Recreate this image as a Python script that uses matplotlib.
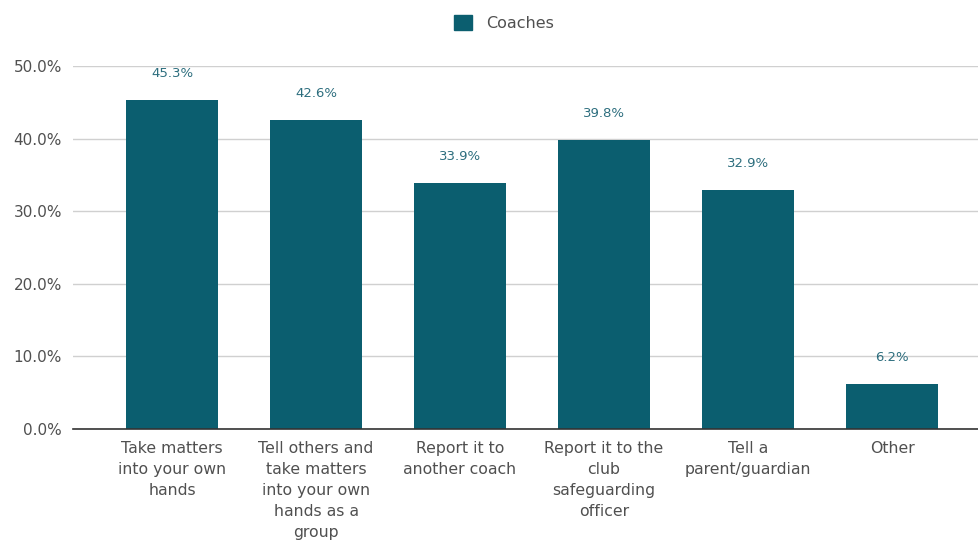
import matplotlib
matplotlib.use('Agg')
import matplotlib.pyplot as plt
from matplotlib.patches import Patch

categories = [
    'Take matters\ninto your own\nhands',
    'Tell others and\ntake matters\ninto your own\nhands as a\ngroup',
    'Report it to\nanother coach',
    'Report it to the\nclub\nsafeguarding\nofficer',
    'Tell a\nparent/guardian',
    'Other',
]
coaches = [45.3, 42.6, 33.9, 39.8, 32.9, 6.2]
yticks = [0, 10, 20, 30, 40, 50]

bar_color = '#0b5e6f'
label_color = '#2d6e7e'
tick_color = '#505050'

fig = plt.figure(figsize=(9.79, 5.44), dpi=100)
ax = fig.add_axes([0.0746, 0.2114, 0.9254, 0.6673])

x = list(range(len(categories)))
ax.bar(x, coaches, width=0.64, color=bar_color, zorder=3)

# value labels above each bar
for xi, val in zip(x, coaches):
    ax.annotate('%.1f%%' % val, (xi, val), xytext=(0, 19), textcoords='offset points',
                ha='center', va='center', fontsize=9.5, color=label_color)

ax.set_xlim(-0.6875, 5.604)
ax.set_ylim(0, 50)
ax.set_yticks(yticks)
ax.set_yticklabels(['%.1f%%' % t for t in yticks], fontsize=11, color=tick_color)
ax.set_xticks(x)
ax.set_xticklabels(categories, fontsize=11.3, color=tick_color, linespacing=1.5, va='top')

ax.grid(axis='y', color='#d0d0d0', linewidth=1, zorder=0)
for side in ('left', 'right', 'top'):
    ax.spines[side].set_visible(False)
ax.spines['bottom'].set_color('#333333')
ax.spines['bottom'].set_linewidth(1.2)
ax.spines['bottom'].set_zorder(4)
ax.tick_params(axis='both', length=0, pad=8)
ax.tick_params(axis='x', pad=9)

fig.legend(handles=[Patch(color=bar_color, label='Coaches')], loc='center',
           bbox_to_anchor=(0.515, 0.958), frameon=False, fontsize=11.5,
           handlelength=1.1, handleheight=1.1, handletextpad=0.9, labelcolor=tick_color)

fig.savefig('out.png', dpi=100)
